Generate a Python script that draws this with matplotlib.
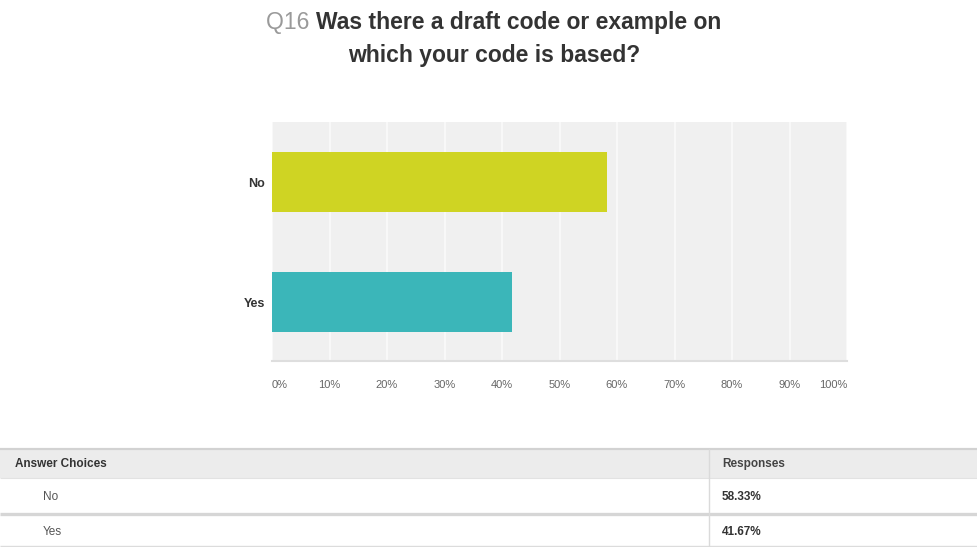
import matplotlib.pyplot as plt
from matplotlib.patches import Rectangle

# survey answers for Q16
choices = ['Yes', 'No']
responses = [41.67, 58.33]
bar_colors = ['#3bb6b9', '#cfd423']
tick_vals = [0, 10, 20, 30, 40, 50, 60, 70, 80, 90, 100]
tick_labels = ['0%', '10%', '20%', '30%', '40%', '50%', '60%', '70%', '80%', '90%', '100%']
question_no = 'Q16'
question = ['Was there a draft code or example on', 'which your code is based?']

W, H = 977, 547
fig = plt.figure(figsize=(W / 100, H / 100), dpi=100)
fig.patch.set_facecolor('white')
font = 'Liberation Sans'

# bar chart
ax = fig.add_axes([272 / W, 1 - 361 / H, 575 / W, 239 / H])
ax.set_facecolor('#f0f0f0')
ax.barh(choices, responses, height=0.5, color=bar_colors, zorder=3)
ax.set_xlim(0, 100)
ax.set_ylim(-0.49, 1.5)
ax.set_xticks(tick_vals)
ax.set_xticklabels(tick_labels, fontsize=8, color='#666666', family=font)
ax.xaxis.grid(True, color='#f8f8f8', lw=1.6, zorder=1)
ax.tick_params(axis='x', length=0, pad=14)
ax.tick_params(axis='y', length=0, pad=5)
for lab in ax.get_yticklabels():
    lab.set_fontsize(9)
    lab.set_fontweight('bold')
    lab.set_color('#333333')
    lab.set_family(font)
xl = ax.get_xticklabels()
xl[0].set_ha('left')
xl[-1].set_ha('right')
for s in ['top', 'left', 'right']:
    ax.spines[s].set_visible(False)
ax.spines['bottom'].set_color('#dedede')
ax.spines['bottom'].set_linewidth(1.5)

# title, "Q16" in grey and the question in bold
fig.canvas.draw()
r = fig.canvas.get_renderer()
t_no = fig.text(0, 1 - 22 / H, question_no + ' ', fontsize=16.5, color='#9a9a9a',
                family=font, va='center')
t_q = fig.text(0, 1 - 22 / H, question[0], fontsize=16.5, color='#333333',
               family=font, weight='bold', va='center')
w1 = t_no.get_window_extent(r).width
w2 = t_q.get_window_extent(r).width
x0 = 494 - (w1 + w2) / 2
t_no.set_x(x0 / W)
t_q.set_x((x0 + w1) / W)
fig.text(494 / W, 1 - 55 / H, question[1], fontsize=16.5, color='#333333',
         family=font, weight='bold', ha='center', va='center')

# summary table underneath
tb = fig.add_axes([0, 0, 1, 110 / H])
tb.set_xlim(0, W)
tb.set_ylim(H, H - 110)
tb.axis('off')
tb.add_patch(Rectangle((0, 449), W, 29, color='#ececec', lw=0))
tb.hlines(449, 0, W, color='#d2d2d2', lw=1.6)
tb.hlines(478, 0, W, color='#e2e2e2', lw=0.8)
tb.hlines(513.5, 0, W, color='#d6d6d6', lw=2.4)
tb.hlines(546, 0, W, color='#dcdcdc', lw=1.0)
tb.vlines(709, 449, 546, color='#dadada', lw=1.0)
tb.text(15, 464, 'Answer Choices', fontsize=8.5, weight='bold', color='#333333',
        family=font, va='center')
tb.text(722, 464, 'Responses', fontsize=8.5, weight='bold', color='#444444',
        family=font, va='center')
row_y = [532, 497]
for name, val, y in zip(choices, responses, row_y):
    tb.text(43, y, name, fontsize=8.5, color='#555555', family=font, va='center')
    tb.text(722, y, f'{val:.2f}%', fontsize=8.5, weight='bold', color='#333333',
            family=font, va='center')

fig.savefig('out.png', dpi=100)
